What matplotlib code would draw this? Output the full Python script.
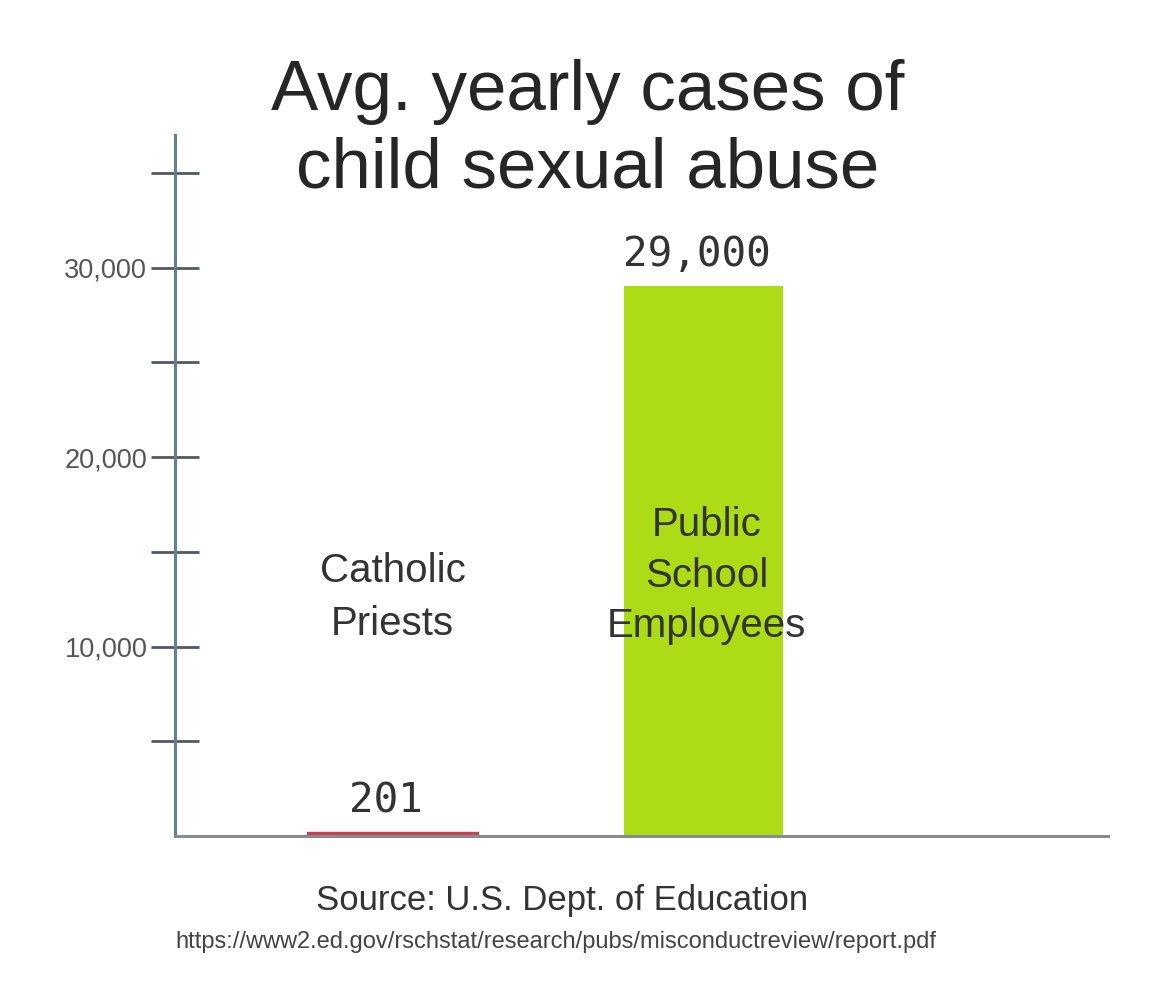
import matplotlib.pyplot as plt
import matplotlib.ticker as ticker

# chart data
groups = ["Catholic\nPriests", "Public\nSchool\nEmployees"]
cases = [201, 29000]
value_labels = ["201", "29,000"]
bar_colors = ["#cc3f4c", "#abdc16"]
y_major = [10000, 20000, 30000]
y_minor = [5000, 15000, 25000, 35000]

fig = plt.figure(figsize=(11.7, 9.99), dpi=100)
ax = fig.add_axes([0.1496, 0.163, 0.797, 0.702])

pos = list(range(len(cases)))
ax.bar(pos, cases, width=[0.55, 0.51], color=bar_colors,
       edgecolor=bar_colors, linewidth=[1.0, 0], zorder=2)

ax.set_xlim(-0.70, 2.30)
ax.set_ylim(0, 37000)

# spines
for s in ["top", "right"]:
    ax.spines[s].set_visible(False)
ax.spines["left"].set_color("#647e90")
ax.spines["left"].set_linewidth(2.2)
ax.spines["bottom"].set_color("#858c92")
ax.spines["bottom"].set_linewidth(2.2)

ax.set_xticks([])
ax.yaxis.set_major_locator(ticker.FixedLocator(y_major))
ax.yaxis.set_minor_locator(ticker.FixedLocator(y_minor))
ax.yaxis.set_major_formatter(ticker.FuncFormatter(lambda x, p: '{:,.0f}'.format(x)))
ax.tick_params(axis="y", which="both", direction="inout", length=34,
               width=2.0, color="#4f5a62", pad=3)
ax.tick_params(axis="y", which="major", labelsize=19.5, labelcolor="#555555")
for t in ax.get_yticklabels():
    t.set_family("Liberation Sans")

# group labels inside plot
ax.text(0, 12600, groups[0], ha="center", va="center", fontsize=29,
        family="Liberation Sans", color="#333333", linespacing=1.5, zorder=3)
ax.text(1.01, 13750, groups[1], ha="center", va="center", fontsize=29,
        family="Liberation Sans", color="#333333", linespacing=1.43, zorder=3)

# value labels
for i, (v, lab) in enumerate(zip(cases, value_labels)):
    ax.text(i - 0.02, v + 1650, lab, ha="center", va="center", fontsize=29.5,
            family="DejaVu Sans Mono", color="#333333")

fig.text(0.5026, 0.869, "Avg. yearly cases of\nchild sexual abuse", ha="center",
         va="center", fontsize=51, family="Liberation Sans", color="#262626",
         linespacing=1.22)

fig.text(0.48, 0.099, "Source: U.S. Dept. of Education", ha="center", va="center",
         fontsize=25, family="Liberation Sans", color="#333333")
fig.text(0.475, 0.057,
         "https://www2.ed.gov/rschstat/research/pubs/misconductreview/report.pdf",
         ha="center", va="center", fontsize=17, family="Liberation Sans",
         color="#444444")

plt.savefig("out.png", dpi=100, facecolor="white")
